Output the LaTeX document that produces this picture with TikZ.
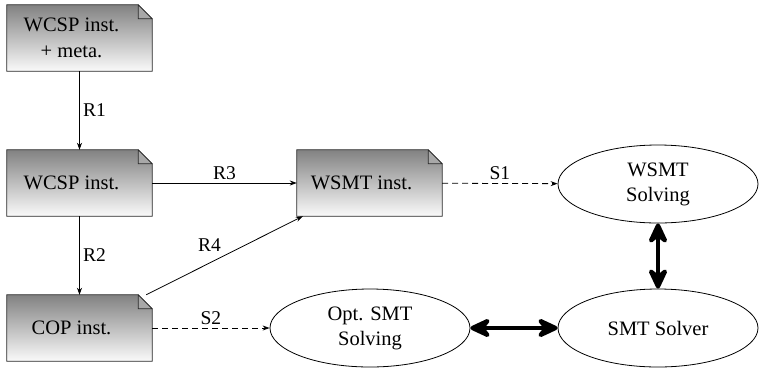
\documentclass[tikz,border=0pt]{standalone}
\usepackage{fontspec}
\setmainfont{Liberation Serif}
\usetikzlibrary{arrows.meta,backgrounds,shapes.geometric}
\definecolor{docdark}{RGB}{130,130,130}
\definecolor{doclight}{RGB}{250,250,250}
\definecolor{docfold}{RGB}{168,168,168}
\definecolor{docline}{RGB}{40,40,40}
\tikzset{
  doc/.style={rectangle, minimum width=145pt, minimum height=66pt, inner sep=0pt},
  doctext/.style={font=\fontsize{20.5}{26}\selectfont, align=center, inner sep=0pt},
  ell/.style={ellipse, draw, line width=0.8pt, minimum width=200pt, minimum height=78pt,
    inner sep=0pt, align=center, font=\fontsize{20.5}{25}\selectfont},
  thinarrow/.style={line width=0.8pt, -{Stealth[length=7pt,width=5pt]}},
  dasharrow/.style={thinarrow, dash pattern=on 6pt off 4pt},
  lbl/.style={font=\fontsize{19.5}{22}\selectfont},
  bigarrow/.style={line width=4.5pt,
    arrows={Stealth[round,length=27pt,width=25pt,inset=10pt]-Stealth[round,length=27pt,width=25pt,inset=10pt]}},
}
\newcommand\docshape[1]{%
  \shadedraw[top color=docdark, bottom color=doclight, draw=docline, line width=0.8pt]
    (#1.north west) -- ([xshift=-14pt]#1.north east) -- ([yshift=-14pt]#1.north east)
    -- (#1.south east) -- (#1.south west) -- cycle;
  \filldraw[fill=docfold, draw=docline, line width=0.8pt, line join=round]
    ([xshift=-14pt]#1.north east) -- ([xshift=-14pt,yshift=-14pt]#1.north east)
    -- ([yshift=-14pt]#1.north east) -- cycle;
}
\begin{document}
\begin{tikzpicture}[x=1pt,y=-1pt]
\useasboundingbox (0,0) rectangle (760,368);

\node[doc, label={[doctext, xshift=-8pt]center:WCSP inst.\\+ meta.}] (meta) at (79.5,38) {};
\node[doc, label={[doctext, xshift=-8pt]center:WCSP inst.}] (wcsp) at (79.5,183) {};
\node[doc, label={[doctext, xshift=-8pt]center:COP inst.}] (cop) at (79.5,328) {};
\node[doc, label={[doctext, xshift=-8pt]center:WSMT inst.}] (wsmt) at (369.5,183) {};

\begin{scope}[on background layer]
  \docshape{meta}
  \docshape{wcsp}
  \docshape{cop}
  \docshape{wsmt}
\end{scope}

\node[ell] (wsolve) at (658,184) {WSMT\\Solving};
\node[ell] (smt) at (658,328) {SMT Solver};
\node[ell] (opt) at (370,328) {Opt. SMT\\Solving};

\draw[thinarrow] (meta) -- node[lbl, right] {R1} (wcsp);
\draw[thinarrow] (wcsp) -- node[lbl, right] {R2} (cop);
\draw[thinarrow] (wcsp) -- node[lbl, above] {R3} (wsmt);
\draw[thinarrow] ([xshift=-6pt]cop.north east) -- node[lbl, above left] {R4} ([xshift=6pt]wsmt.south west);
\draw[dasharrow] (wsmt) -- node[lbl, above] {S1} (wsolve);
\draw[dasharrow] (cop) -- node[lbl, above] {S2} (opt);

\draw[bigarrow] (wsolve) -- (smt);
\draw[bigarrow] (opt) -- (smt);
\end{tikzpicture}
\end{document}
